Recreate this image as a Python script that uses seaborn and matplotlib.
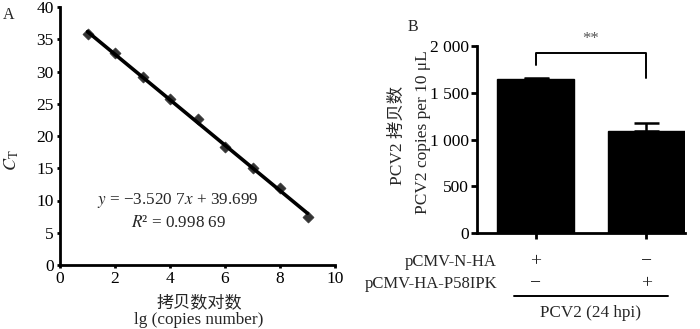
import numpy as np
import pandas as pd
import matplotlib
matplotlib.use("Agg")
import matplotlib.pyplot as plt
import matplotlib.transforms as mtransforms
import seaborn as sns

# ---- data ----
lg_copies = [1, 2, 3, 4, 5, 6, 7, 8, 9]
ct_values = [35.8, 32.9, 29.1, 25.7, 22.6, 18.3, 15.1, 12.0, 7.5]
fit_slope = -3.5207
fit_intercept = 39.699

groups = ["N-HA", "HA-P58IPK"]
copies = [1645, 1090]
copies_err = [12, 85]
row_labels = ["pCMV-N-HA", "pCMV-HA-P58IPK"]
signs = [["+", "\u2212"], ["\u2212", "+"]]

sns.set_theme(style="ticks")
plt.rcParams["font.family"] = ["Liberation Serif", "Noto Sans CJK SC"]
plt.rcParams["mathtext.fontset"] = "stix"
plt.rcParams["axes.unicode_minus"] = True

W, H = 700, 329
fig = plt.figure(figsize=(7, 3.29), dpi=100)

def ax_px(l, t, r, b):
    return fig.add_axes([l / W, 1 - b / H, (r - l) / W, (b - t) / H])

# ---- Panel A ----
axA = ax_px(60, 7, 335, 265)
dfA = pd.DataFrame({"x": lg_copies, "y": ct_values})
xs = np.array([lg_copies[0], lg_copies[-1]])
sns.lineplot(x=xs, y=fit_slope * xs + fit_intercept, ax=axA, color="black", lw=2.6, zorder=3)
sns.scatterplot(data=dfA, x="x", y="y", ax=axA, marker="D", color="#333333", s=32,
                edgecolor="#333333", zorder=2)
axA.set_xlim(0, 10)
axA.set_ylim(0, 40)
axA.set_xticks(range(0, 11, 2))
axA.set_yticks(range(0, 41, 5))
for s in ["top", "right"]:
    axA.spines[s].set_visible(False)
for s in ["left", "bottom"]:
    axA.spines[s].set_linewidth(2.0)
    axA.spines[s].set_color("black")
axA.tick_params(direction="out", length=2.5, width=2.0, pad=2, labelsize=12.5, colors="black")
axA.set_xlabel("")
axA.set_ylabel("")
fig.text(12 / W, 1 - 160 / H, r"$C_{\mathrm{T}}$", fontsize=13, rotation=90, ha="center", va="center")
fig.text(178 / W, 1 - 200 / H, "$y$ = \u22123.520 7$x$ + 39.699", fontsize=12.3, ha="center", va="center")
fig.text(179 / W, 1 - 223 / H, "$R$\u00b2 = 0.998 69", fontsize=12.3, ha="center", va="center")
fig.text(199 / W, 1 - 303 / H, "拷贝数对数", fontsize=12.3, ha="center", va="center")
fig.text(199 / W, 1 - 320 / H, "lg (copies number)", fontsize=12.3, ha="center", va="center")
fig.text(9 / W, 1 - 15 / H, "A", fontsize=11.5, ha="center", va="center")

# ---- Panel B ----
axB = ax_px(477, 46, 685, 233)
dfB = pd.DataFrame({"group": groups, "copies": copies})
sns.barplot(data=dfB, x="group", y="copies", ax=axB, color="black", width=0.7,
            saturation=1, edgecolor="black")
axB.errorbar(range(len(groups)), copies, yerr=[[0, 0], copies_err], fmt="none",
             ecolor="black", elinewidth=1.8, capsize=9, capthick=1.8)
axB.set_xlim(-0.53, 1.35)
axB.set_ylim(0, 2000)
axB.set_yticks([0, 500, 1000, 1500, 2000])
axB.set_yticklabels(["0", "500", "1 000", "1 500", "2 000"])
axB.set_xticks(range(len(groups)))
axB.set_xticklabels([])
axB.set_xlabel("")
axB.set_ylabel("")
for s in ["top", "right"]:
    axB.spines[s].set_visible(False)
for s in ["left", "bottom"]:
    axB.spines[s].set_linewidth(2.0)
    axB.spines[s].set_color("black")
axB.tick_params(direction="out", length=4, width=2.0, pad=2, labelsize=12.5, colors="black")

# significance bracket
axB.plot([0, 0, 1, 1], [1800, 1930, 1930, 1660], color="black", lw=1.4, clip_on=False)
axB.text(0.5, 1990, "**", ha="center", va="bottom", fontsize=12, color="#555555")

fig.text(398 / W, 1 - 135 / H, "PCV2 拷贝数", fontsize=12.5, rotation=90, ha="center", va="center")
fig.text(423 / W, 1 - 132 / H, "PCV2 copies per 10 μL", fontsize=12.5, rotation=90, ha="center", va="center")
fig.text(413 / W, 1 - 27 / H, "B", fontsize=11.5, ha="center", va="center")

trans = mtransforms.blended_transform_factory(axB.transData, fig.transFigure)
row_y = [262, 284]
for r, lab in enumerate(row_labels):
    fig.text(497 / W, 1 - row_y[r] / H, lab, fontsize=12, ha="right", va="center")
    for i in range(len(groups)):
        axB.text(i, 1 - row_y[r] / H, signs[r][i], transform=trans, fontsize=14,
                 ha="center", va="center", clip_on=False)
axB.plot([-0.2, 1.2], [1 - 296 / H] * 2, transform=trans, color="black", lw=1.4, clip_on=False)
axB.text(0.5, 1 - 313 / H, "PCV2 (24 hpi)", transform=trans, fontsize=12.3, ha="center", va="center")

fig.savefig("out.png", dpi=100)
